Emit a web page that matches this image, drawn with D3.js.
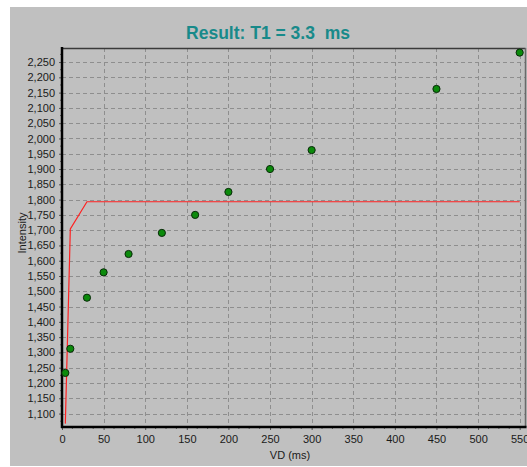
<!DOCTYPE html>
<html>
<head>
<meta charset="utf-8">
<script src="https://cdn.jsdelivr.net/npm/d3@7/dist/d3.min.js"></script>
<style>
  html, body { margin: 0; padding: 0; background: #ffffff; }
  svg { display: block; }
  text { font-family: Arial, "Liberation Sans", sans-serif; }
</style>
</head>
<body>
<svg id="chart" width="527" height="467"></svg>
<script>
// Saturation-recovery measurements: delay (VD, ms) vs. signal intensity
const vdValues = [4, 10, 30, 50, 80, 120, 160, 200, 250, 300, 450, 550];
const intensityValues = [1233, 1312, 1479, 1562, 1622, 1691, 1750, 1825, 1900, 1962, 2162, 2281];
// Fitted curve evaluated at the same delays
const fitValues = [1067, 1704, 1793, 1793, 1793, 1793, 1793, 1793, 1793, 1793, 1793, 1793];

const xTicks = [0, 50, 100, 150, 200, 250, 300, 350, 400, 450, 500, 550];
const yTicks = [1100, 1150, 1200, 1250, 1300, 1350, 1400, 1450, 1500, 1550, 1600, 1650,
                1700, 1750, 1800, 1850, 1900, 1950, 2000, 2050, 2100, 2150, 2200, 2250];

const titleText = "Result: T1 = 3.3\u00a0 ms";
const xLabel = "VD (ms)";
const yLabel = "Intensity";

const svg = d3.select("#chart");

// panel background
svg.append("rect")
  .attr("x", 10).attr("y", 7).attr("width", 517).attr("height", 459)
  .attr("fill", "#c0c0c0");

const plot = { left: 62, right: 525.5, top: 48, bottom: 427 };

const x = d3.scaleLinear().domain([0, 557]).range([plot.left, plot.right]);
const y = d3.scaleLinear().domain([1056, 2296]).range([plot.bottom, plot.top]);

// title
svg.append("text")
  .attr("x", 268).attr("y", 39)
  .attr("text-anchor", "middle")
  .attr("font-size", "17.5px")
  .attr("font-weight", "bold")
  .attr("fill", "#188a8a")
  .text(titleText);

// dashed grid
const grid = svg.append("g");
grid.selectAll("line.h").data(yTicks).join("line")
  .attr("x1", plot.left).attr("x2", plot.right)
  .attr("y1", d => Math.round(y(d)) + 0.5).attr("y2", d => Math.round(y(d)) + 0.5)
  .attr("stroke", "#8e8e8e").attr("stroke-width", 1)
  .attr("stroke-dasharray", "4,3");
grid.selectAll("line.v").data(xTicks.filter(d => d > 0)).join("line")
  .attr("x1", d => Math.round(x(d)) + 0.5).attr("x2", d => Math.round(x(d)) + 0.5)
  .attr("y1", plot.top).attr("y2", plot.bottom)
  .attr("stroke", "#8e8e8e").attr("stroke-width", 1)
  .attr("stroke-dasharray", "4,3");

// frame: top and right edges
svg.append("line")
  .attr("x1", plot.left).attr("x2", plot.right)
  .attr("y1", plot.top + 0.5).attr("y2", plot.top + 0.5)
  .attr("stroke", "#3a3a3a").attr("stroke-width", 1.5);
svg.append("line")
  .attr("x1", plot.right).attr("x2", plot.right)
  .attr("y1", plot.top).attr("y2", plot.bottom)
  .attr("stroke", "#6a6a6a").attr("stroke-width", 1.5);

// x axis
const xAxis = d3.axisBottom(x)
  .tickValues(xTicks)
  .tickSize(3)
  .tickPadding(5)
  .tickFormat(d3.format("d"));
const gx = svg.append("g")
  .attr("transform", `translate(0,${plot.bottom})`)
  .call(xAxis);
gx.select(".domain").remove();
gx.selectAll("text").attr("font-size", "11px").attr("fill", "#1a1a1a").attr("font-family", "Arial, 'Liberation Sans', sans-serif");
gx.selectAll("line").attr("stroke", "#555");
// x minor ticks
const xMinor = d3.range(0, 557, 12.5).filter(v => v % 50 !== 0);
svg.append("g").selectAll("line").data(xMinor).join("line")
  .attr("x1", d => x(d)).attr("x2", d => x(d))
  .attr("y1", plot.bottom).attr("y2", plot.bottom + 2)
  .attr("stroke", "#666");

// y axis
const yAxis = d3.axisLeft(y)
  .tickValues(yTicks)
  .tickSize(3)
  .tickPadding(4)
  .tickFormat(d3.format(","));
const gy = svg.append("g")
  .attr("transform", `translate(${plot.left},0)`)
  .call(yAxis);
gy.select(".domain").remove();
gy.selectAll("text").attr("font-size", "11px").attr("fill", "#1a1a1a").attr("font-family", "Arial, 'Liberation Sans', sans-serif");
gy.selectAll("line").attr("stroke", "#555");
const yMinor = d3.range(1075, 2296, 50);
svg.append("g").selectAll("line").data(yMinor).join("line")
  .attr("x1", plot.left - 2).attr("x2", plot.left)
  .attr("y1", d => y(d)).attr("y2", d => y(d))
  .attr("stroke", "#666");

// axis lines (thick black)
svg.append("line")
  .attr("x1", plot.left).attr("x2", plot.left)
  .attr("y1", plot.top - 1).attr("y2", plot.bottom + 1)
  .attr("stroke", "#000").attr("stroke-width", 2.5);
svg.append("line")
  .attr("x1", plot.left - 1).attr("x2", plot.right + 1)
  .attr("y1", plot.bottom).attr("y2", plot.bottom)
  .attr("stroke", "#000").attr("stroke-width", 2.5);

// axis titles
svg.append("text")
  .attr("x", 290).attr("y", 459)
  .attr("text-anchor", "middle")
  .attr("font-size", "11px")
  .attr("fill", "#1a1a1a")
  .text(xLabel);
svg.append("text")
  .attr("transform", "translate(26,233) rotate(-90)")
  .attr("text-anchor", "middle")
  .attr("font-size", "11px")
  .attr("fill", "#1a1a1a")
  .text(yLabel);

// fitted curve
const fitData = vdValues.map((v, i) => [v, fitValues[i]]);
svg.append("path")
  .datum(fitData)
  .attr("fill", "none")
  .attr("stroke", "#ff2020")
  .attr("stroke-width", 1.2)
  .attr("d", d3.line().x(d => x(d[0])).y(d => y(d[1])));

// measured points
const pts = vdValues.map((v, i) => [v, intensityValues[i]]);
svg.append("g").selectAll("circle").data(pts).join("circle")
  .attr("cx", d => x(d[0]))
  .attr("cy", d => y(d[1]))
  .attr("r", 3.6)
  .attr("fill", "#0b8a0b")
  .attr("stroke", "#0a2a0a")
  .attr("stroke-width", 1);
</script>
</body>
</html>
